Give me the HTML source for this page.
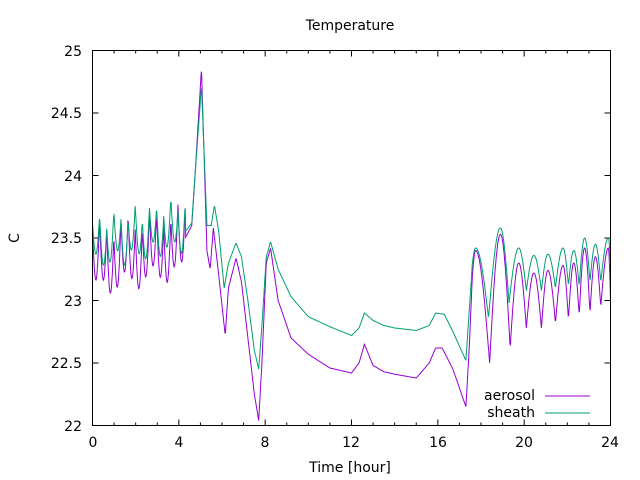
<!DOCTYPE html>
<html><head><meta charset="utf-8"><style>
body{margin:0;background:#fff}
svg{display:block;font-family:"DejaVu Sans","Liberation Sans",sans-serif}
</style></head><body>
<svg id="s" width="640" height="480" xmlns="http://www.w3.org/2000/svg">
<rect width="640" height="480" fill="#fff"/>
<text x="350" y="30" font-size="14" text-anchor="middle">Temperature</text>
<text x="350" y="472" font-size="14" text-anchor="middle">Time [hour]</text>
<text x="19" y="238" font-size="14" text-anchor="middle" transform="rotate(-90 19 238)">C</text>
<g font-size="14" text-anchor="end">
<text x="82" y="431">22</text><text x="82" y="368">22.5</text><text x="82" y="306">23</text>
<text x="82" y="243">23.5</text><text x="82" y="181">24</text><text x="82" y="118">24.5</text><text x="82" y="56">25</text>
</g>
<g font-size="14" text-anchor="middle">
<text x="93" y="447">0</text><text x="179" y="447">4</text><text x="265" y="447">8</text><text x="351" y="447">12</text>
<text x="438" y="447">16</text><text x="524" y="447">20</text><text x="610" y="447">24</text>
</g>
<g id="ticks" stroke="#000" stroke-width="1"></g>
<g id="lines" fill="none" stroke-width="1"></g>
<rect x="92.5" y="50.5" width="518" height="375" fill="none" stroke="#000"/>
<text x="535" y="400" font-size="14" text-anchor="end">aerosol</text>
<text x="535" y="417" font-size="14" text-anchor="end">sheath</text>
<line x1="545" y1="396" x2="590" y2="396" stroke="#9400d3"/>
<line x1="545" y1="413" x2="590" y2="413" stroke="#009e73"/>
</svg>
<script>
var X=function(t){return 92.5+t*518/24},Y=function(v){return 425.5-(v-22)*375/3};
var tk="";
for(var h=0;h<=24;h++){var x=X(h),l=(h%4==0)?6:3;tk+='<line x1="'+x+'" y1="425.5" x2="'+x+'" y2="'+(425.5-l)+'"/><line x1="'+x+'" y1="50.5" x2="'+x+'" y2="'+(50.5+l)+'"/>';}
for(var v=22;v<=25;v+=0.5){var y=Y(v);tk+='<line x1="92.5" y1="'+y+'" x2="98.5" y2="'+y+'"/><line x1="610.5" y1="'+y+'" x2="604.5" y2="'+y+'"/>';}
document.getElementById("ticks").innerHTML=tk;
function interp(k,t){for(var i=0;i<k.length-1;i++){if(t<=k[i+1][0]){var a=k[i],b=k[i+1],f=(t-a[0])/(b[0]-a[0]);return a[1]+f*(b[1]-a[1]);}}return k[k.length-1][1];}
var G=[[4.3,23.55],[4.6,23.62],[4.75,24.0],[5.05,24.72],[5.3,23.6],[5.5,23.6],[5.65,23.76],[5.85,23.55],[6.1,23.1],[6.3,23.3],[6.65,23.46],[6.9,23.35],[7.2,23.0],[7.5,22.6],[7.7,22.45],[7.85,22.8],[8.05,23.35],[8.25,23.47],[8.6,23.25],[9.2,23.03],[10,22.87],[11,22.79],[12,22.72],[12.35,22.78],[12.6,22.9],[13,22.84],[13.5,22.8],[14,22.78],[15,22.76],[15.6,22.8],[15.9,22.9],[16.3,22.89],[16.7,22.75],[17.3,22.52],[17.45,22.9],[17.6,23.3]];
var A=[[4.3,23.5],[4.6,23.6],[4.75,24.0],[5.05,24.86],[5.3,23.4],[5.45,23.25],[5.6,23.58],[5.85,23.2],[6.15,22.72],[6.3,23.1],[6.65,23.34],[6.9,23.15],[7.2,22.7],[7.5,22.25],[7.7,22.04],[7.85,22.5],[8.05,23.3],[8.25,23.42],[8.6,23.0],[9.2,22.7],[10,22.57],[11,22.46],[12,22.42],[12.35,22.5],[12.6,22.65],[13,22.48],[13.5,22.43],[14,22.41],[15,22.38],[15.6,22.5],[15.9,22.62],[16.2,22.62],[16.7,22.45],[17.3,22.15],[17.45,22.6],[17.6,23.2]];
// extrema lists for late oscillation: [t, value, isMax]
var GE=[[17.6,23.3,0],[17.75,23.42,1],[18.35,22.86,0],[18.9,23.58,1],[19.3,22.98,0],[19.75,23.42,1],[20.1,23.08,0],[20.45,23.36,1],[20.8,23.08,0],[21.1,23.37,1],[21.45,23.1,0],[21.8,23.42,1],[22.05,23.12,0],[22.3,23.4,1],[22.55,23.12,0],[22.8,23.5,1],[23.05,23.15,0],[23.3,23.45,1],[23.55,23.15,0],[23.9,23.5,1],[24,23.3,0]];
var AE=[[17.6,23.2,0],[17.75,23.4,1],[18.4,22.5,0],[18.9,23.53,1],[19.35,22.62,0],[19.75,23.3,1],[20.1,22.78,0],[20.45,23.22,1],[20.8,22.78,0],[21.1,23.24,1],[21.45,22.82,0],[21.8,23.28,1],[22.05,22.85,0],[22.3,23.3,1],[22.55,22.88,0],[22.8,23.42,1],[23.05,22.9,0],[23.3,23.35,1],[23.55,22.95,0],[23.9,23.42,1],[24,23.0,0]];
function osc(E,t){for(var i=0;i<E.length-1;i++){if(t<=E[i+1][0]){var a=E[i],b=E[i+1],u=(t-a[0])/(b[0]-a[0]);
 var mn=a[2]?b:a,mx=a[2]?a:b,w=a[2]?1-u:u; return mn[1]+(mx[1]-mn[1])*Math.sin(Math.PI/2*w);}}return E[E.length-1][1];}
function sheath(t){
 if(t<4.3){var top=23.62+0.15*t/4.3+0.07*Math.sin(t*7.3);return top-0.32*Math.abs(Math.sin(Math.PI*t/0.33));}
 if(t<17.6)return interp(G,t);
 return osc(GE,t);
}
function aer(t){
 if(t<4.3){var top=23.55+0.15*t/4.3+0.08*Math.sin(t*5.1);return top-0.45*Math.abs(Math.sin(Math.PI*t/0.33));}
 if(t<17.6)return interp(A,t);
 return osc(AE,t);
}
function path(f,c){var d="";for(var t=0;t<=24.001;t+=0.02){d+=(t==0?"M":"L")+X(t).toFixed(1)+","+Y(f(t)).toFixed(1);}return '<path d="'+d+'" stroke="'+c+'"/>';}
document.getElementById("lines").innerHTML=path(aer,"#9400d3")+path(sheath,"#009e73");
</script>
</body></html>
